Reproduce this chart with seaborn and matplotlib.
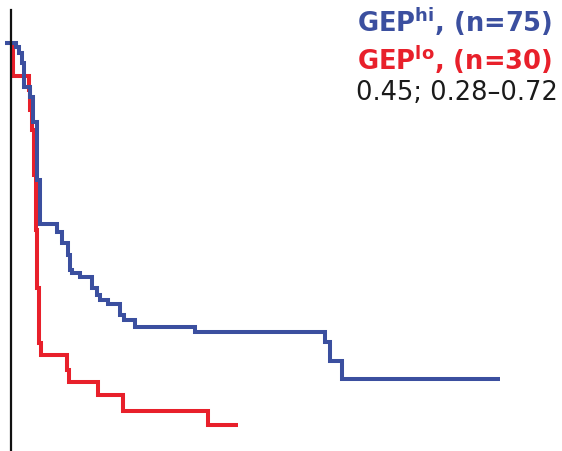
import matplotlib
matplotlib.use("Agg")
import matplotlib.pyplot as plt
import seaborn as sns
import pandas as pd

# Kaplan-Meier style step data (time in months, survival fraction)
hi_time = [0, 2.2, 2.8, 3.4, 3.8, 5.0, 5.6, 6.4, 7.0, 10.4, 11.4, 12.6, 13.0, 13.4,
           15.0, 17.4, 18.4, 19.0, 20.6, 23.0, 23.8, 26.0, 38.0, 64.0, 65.0, 67.4, 99.0]
hi_surv = [1.0, 0.990, 0.976, 0.952, 0.895, 0.871, 0.812, 0.674, 0.569, 0.550, 0.524,
           0.495, 0.460, 0.452, 0.443, 0.417, 0.400, 0.388, 0.379, 0.352, 0.340, 0.324,
           0.312, 0.288, 0.243, 0.200, 0.200]
lo_time = [0, 1.6, 4.8, 5.0, 5.4, 5.8, 6.2, 6.4, 6.8, 7.2, 12.4, 12.8, 18.6, 23.6, 40.6, 46.6]
lo_surv = [1.0, 0.921, 0.888, 0.840, 0.793, 0.686, 0.555, 0.417, 0.286, 0.257, 0.221,
           0.193, 0.162, 0.124, 0.090, 0.090]

labels_hi = r"GEP$^{\mathbf{hi}}$, (n=75)"
labels_lo = r"GEP$^{\mathbf{lo}}$, (n=30)"
stat_text = "0.45; 0.28\u20130.72"

blue = "#3b4f9f"
red = "#e8202b"

df = pd.concat([
    pd.DataFrame({"time": lo_time, "surv": lo_surv, "group": "lo"}),
    pd.DataFrame({"time": hi_time, "surv": hi_surv, "group": "hi"}),
])

sns.set_style("white")
plt.rcParams["font.family"] = ["DejaVu Sans"]
plt.rcParams["mathtext.fontset"] = "dejavusans"

fig = plt.figure(figsize=(5.62, 4.51), dpi=100)
ax = fig.add_axes([0, 0, 1, 1])

sns.lineplot(data=df, x="time", y="surv", hue="group", hue_order=["lo", "hi"],
             palette={"lo": red, "hi": blue}, estimator=None, sort=False,
             drawstyle="steps-post", linewidth=2.9, legend=False, ax=ax,
             solid_capstyle="butt", solid_joinstyle="miter")

ax.set_xlim(-1, 111.4)
ax.set_ylim(0.0286, 1.1024)
for s in ["top", "right", "bottom"]:
    ax.spines[s].set_visible(False)
ax.spines["left"].set_position(("data", 1.3))
ax.spines["left"].set_bounds(0.0, 1.0786)
ax.spines["left"].set_color("#111111")
ax.spines["left"].set_linewidth(1.6)
ax.set_xticks([])
ax.set_yticks([])
ax.set_xlabel("")
ax.set_ylabel("")
ax.patch.set_alpha(0)

fig.text(552 / 562, 1 - 22 / 451, labels_hi, color=blue, fontsize=18.5,
         fontweight="bold", ha="right", va="center")
fig.text(552 / 562, 1 - 60 / 451, labels_lo, color=red, fontsize=18.5,
         fontweight="bold", ha="right", va="center")
fig.text(558 / 562, 1 - 93 / 451, stat_text, color="#1a1a1a", fontsize=18.5,
         ha="right", va="center")

fig.savefig("out.png", dpi=100)
